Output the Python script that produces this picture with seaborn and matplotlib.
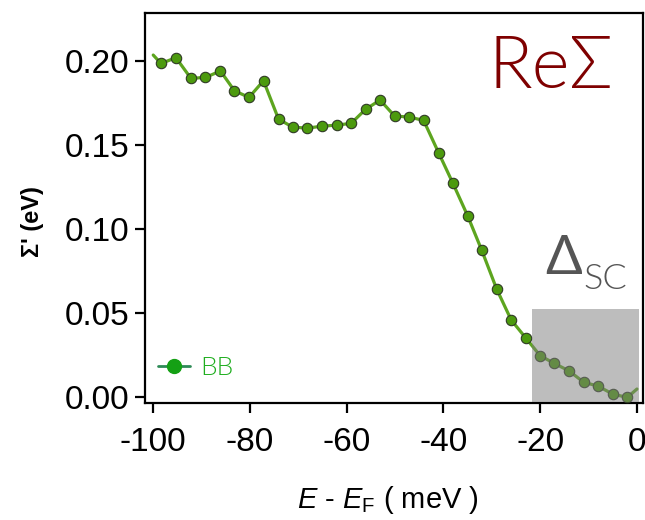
import matplotlib
matplotlib.use("Agg")
import matplotlib.pyplot as plt
from matplotlib.lines import Line2D
from matplotlib.patches import Rectangle
import seaborn as sns
import pandas as pd

# Data
energy = [-100.0, -98.4, -95.3, -92.2, -89.2, -86.1, -83.2, -80.2, -77.2, -74.1,
          -71.2, -68.2, -65.2, -62.1, -59.1, -56.1, -53.1, -50.1, -47.1, -44.1,
          -41.0, -38.1, -35.0, -32.1, -29.0, -26.0, -22.9, -20.0, -17.1, -14.0,
          -11.0, -8.1, -5.0, -2.0, 0.0]
resigma = [0.2034, 0.1984, 0.2018, 0.1895, 0.1901, 0.1939, 0.1821, 0.1782, 0.1881, 0.1653,
           0.1605, 0.1599, 0.1610, 0.1617, 0.1627, 0.1711, 0.1766, 0.1671, 0.1665, 0.1645,
           0.1452, 0.1274, 0.1077, 0.0873, 0.0641, 0.0457, 0.0347, 0.0244, 0.0199, 0.0153,
           0.0086, 0.0064, 0.0016, -0.0004, 0.0046]
x_ticks = [-100, -80, -60, -40, -20, 0]
y_ticks = [0.00, 0.05, 0.10, 0.15, 0.20]
y_ticklabels = ["0.00", "0.05", "0.10", "0.15", "0.20"]
gap_range = (-21.7, 0.5, -0.003, 0.0522)   # x0, x1, y0, y1 of shaded region
series_name = "BB"

df = pd.DataFrame({"E": energy, "S": resigma})

sns.set_style("white")
plt.rcParams["font.family"] = ["Liberation Sans", "DejaVu Sans"]
plt.rcParams["text.color"] = "black"
plt.rcParams["xtick.color"] = "black"
plt.rcParams["ytick.color"] = "black"
plt.rcParams["mathtext.fontset"] = "custom"
plt.rcParams["mathtext.rm"] = "Liberation Sans"
plt.rcParams["mathtext.it"] = "Liberation Sans:italic"

GEO = ["Lato", "Open Sans", "DejaVu Sans"]

fig = plt.figure(figsize=(6.45, 5.2), dpi=100)
ax = fig.add_axes([145 / 645, 1 - 403.3 / 520, (643 - 145) / 645, (403.3 - 12.7) / 520])

sns.lineplot(data=df, x="E", y="S", ax=ax, sort=False, estimator=None,
             color="#5da51f", linewidth=2.3, marker="o", markersize=7.5,
             markerfacecolor="#4c9a0e", markeredgecolor="#2f3a25", markeredgewidth=0.8,
             markevery=list(range(1, len(energy) - 1)), zorder=3)

x0, x1, y0, y1 = gap_range
ax.add_patch(Rectangle((x0, y0), x1 - x0, y1 - y0, facecolor=(0.49, 0.49, 0.49),
                       alpha=0.5, edgecolor="none", zorder=4))

ax.set_xlim(-101.7, 1.25)
ax.set_ylim(-0.0039, 0.2286)
ax.set_xticks(x_ticks)
ax.set_xticklabels([str(t) for t in x_ticks])
ax.set_yticks(y_ticks)
ax.set_yticklabels(y_ticklabels)
ax.tick_params(axis="both", which="major", direction="out", length=7, width=1.6,
               labelsize=24, color="black", labelcolor="black", bottom=True, left=True)
ax.tick_params(axis="x", pad=10)
ax.tick_params(axis="y", pad=4)
for s in ax.spines.values():
    s.set_visible(True)
    s.set_color("black")
    s.set_linewidth(1.6)

ax.set_xlabel("")
ax.set_ylabel("")
fig.text(388 / 645, 1 - 500 / 520, r"$E$ - $E_{\rm F}$ ( meV )", ha="center", va="center",
         fontsize=21)
fig.text(33 / 645, 1 - 222 / 520, "Σ' (eV)", rotation=90, ha="center", va="center",
         fontsize=17, fontweight="semibold")

ax.text(551 / 645, 1 - 68 / 520, "ReΣ", transform=fig.transFigure, ha="center",
        va="center", fontsize=52, color="#7f0000", family=GEO, fontweight=300)
ax.text(564 / 645, 1 - 259 / 520, "Δ", transform=fig.transFigure, ha="center",
        va="center", fontsize=39, color="#555555", family=GEO, fontweight="normal")
ax.text(605 / 645, 1 - 279 / 520, "SC", transform=fig.transFigure, ha="center",
        va="center", fontsize=26, color="#555555", family=GEO, fontweight=300)

handle = Line2D([], [], color="#2e8b57", linewidth=2, marker="o", markersize=10,
                markerfacecolor="#14a014", markeredgecolor="#14a014")
leg = ax.legend([handle], [series_name], loc="center left", bbox_to_anchor=(0.005, 0.09),
                borderaxespad=0, frameon=False, handlelength=1.2, handletextpad=0.4,
                prop={"family": GEO, "size": 19, "weight": 300})
for t in leg.get_texts():
    t.set_color("#1fae1f")

fig.savefig("out.png", dpi=100)
